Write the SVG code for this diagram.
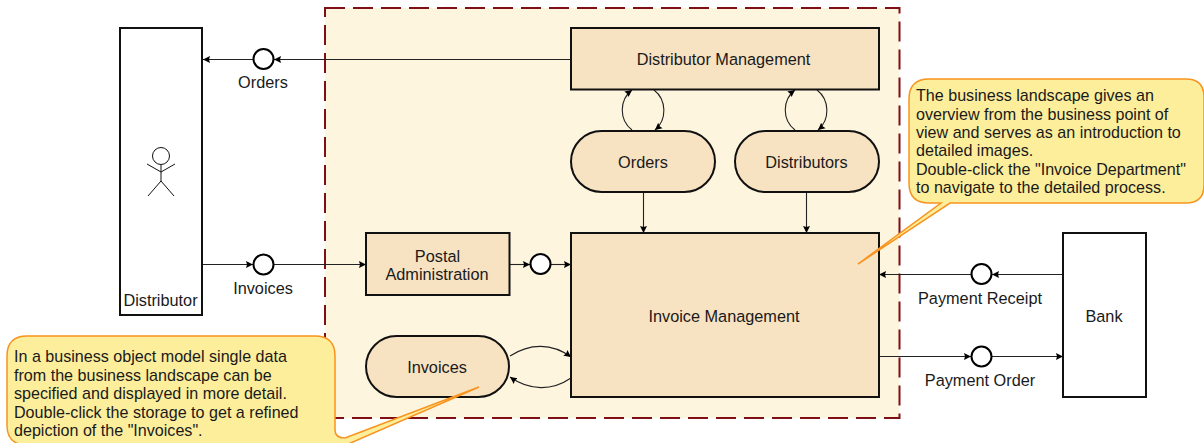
<svg xmlns="http://www.w3.org/2000/svg" width="1204" height="443" viewBox="0 0 1204 443">
<defs>
<marker id="arr" markerUnits="userSpaceOnUse" markerWidth="9" markerHeight="9" refX="7" refY="4.500" orient="auto"><path d="M0 1L7 4.500L0 8L1 4.500Z" fill="#000"/></marker>
</defs>
<style>
text{font-family:"Liberation Sans",Arial,sans-serif;font-size:16.3px;fill:#1a1a1a;text-anchor:middle}
.note text{text-anchor:start;font-size:16.1px}
.n{fill:#f7e2c2;stroke:#111;stroke-width:2}
.w{fill:#fff;stroke:#111;stroke-width:2}
.c{fill:#fff;stroke:#000;stroke-width:2}
.e{fill:none;stroke:#222;stroke-width:1.100;marker-end:url(#arr)}
.callout{fill:#fdee9c;stroke:#f7931e;stroke-width:1.500}
</style>
<g id="boundary"><rect x="325" y="8" width="574.500" height="410" fill="#fef5df" stroke="#7f0f14" stroke-width="2" stroke-dasharray="20 8"/></g>
<g id="connectors">
<path class="e" d="M571 59.500H274"/>
<path class="e" d="M253 59.500H203"/>
<path class="e" d="M202 264.500H253"/>
<path class="e" d="M274 264.500H366"/>
<path class="e" d="M509.500 264.500H530"/>
<path class="e" d="M551 264.500H571"/>
<path class="e" d="M1063 274.500H992"/>
<path class="e" d="M971 274.500H879"/>
<path class="e" d="M879 356.500H971"/>
<path class="e" d="M992 356.500H1063"/>
<path class="e" d="M643.500 192V233"/>
<path class="e" d="M806.500 192V233"/>
<path class="e" d="M632 130C619 120 619 100 632 90"/>
<path class="e" d="M654 90C667 100 667 120 655 130"/>
<path class="e" d="M795 130C782 120 782 100 795 90"/>
<path class="e" d="M817 90C830 100 830 120 818 130"/>
<path class="e" d="M510 356C530 343 552 343 571 357"/>
<path class="e" d="M571 378C552 391 530 391 510 377"/>
</g>
<g id="distributor"><rect class="w" x="120" y="28" width="82" height="287"/>
<circle cx="161" cy="156" r="8.500" fill="#fff" stroke="#111" stroke-width="1"/>
<path d="M161 165V181M147 164L161 172L175 164M148 196L161 181L174 196" fill="none" stroke="#111" stroke-width="1"/>
<text x="160.500" y="306">Distributor</text></g>
<g id="distributor-management"><rect class="n" x="571" y="28" width="308" height="61.500"/><text x="723.500" y="65">Distributor Management</text></g>
<g id="orders-store"><rect class="n" x="571" y="131" width="144" height="61" rx="30.500"/><text x="643" y="168">Orders</text></g>
<g id="distributors-store"><rect class="n" x="735" y="131" width="144" height="61" rx="30.500"/><text x="806.500" y="168">Distributors</text></g>
<g id="postal-administration"><rect class="n" x="366" y="233" width="143.500" height="62"/><text x="437.500" y="262">Postal</text><text x="437" y="280">Administration</text></g>
<g id="invoices-store"><rect class="n" x="366" y="336" width="143" height="61" rx="30.500"/><text x="437" y="373">Invoices</text></g>
<g id="invoice-management"><rect class="n" x="571" y="233" width="308" height="164"/><text x="724" y="322">Invoice Management</text></g>
<g id="bank"><rect class="w" x="1063" y="233" width="83" height="164"/><text x="1104" y="322">Bank</text></g>
<g id="orders-flow"><circle class="c" cx="263.500" cy="59" r="10"/><text x="263" y="88">Orders</text></g>
<g id="invoices-flow"><circle class="c" cx="263.500" cy="264.500" r="10"/><text x="263" y="294">Invoices</text></g>
<g id="postal-flow"><circle class="c" cx="540.500" cy="264" r="10"/></g>
<g id="payment-receipt"><circle class="c" cx="981.500" cy="274" r="10"/><text x="980" y="304">Payment Receipt</text></g>
<g id="payment-order"><circle class="c" cx="981.500" cy="356.500" r="10"/><text x="980" y="386">Payment Order</text></g>
<g id="note-landscape" class="note">
<path class="callout" d="M929 79H1186Q1204 79 1204 97V185Q1204 203 1186 203H950L858 264L941 203H929Q909 203 909 183V99Q909 79 929 79Z"/>
<text x="916" y="101">The business landscape gives an</text>
<text x="916" y="120">overview from the business point of</text>
<text x="916" y="138">view and serves as an introduction to</text>
<text x="916" y="156">detailed images.</text>
<text x="916" y="175">Double-click the "Invoice Department"</text>
<text x="916" y="193">to navigate to the detailed process.</text>
</g>
<g id="note-model" class="note">
<path class="callout" d="M27 336H315Q335 336 335 356V430Q335 438 345 438L479 387L346 445H27Q7 445 7 425V356Q7 336 27 336Z"/>
<text x="14" y="362">In a business object model single data</text>
<text x="14" y="381">from the business landscape can be</text>
<text x="14" y="399">specified and displayed in more detail.</text>
<text x="14" y="418">Double-click the storage to get a refined</text>
<text x="14" y="436">depiction of the "Invoices".</text>
</g>
</svg>
